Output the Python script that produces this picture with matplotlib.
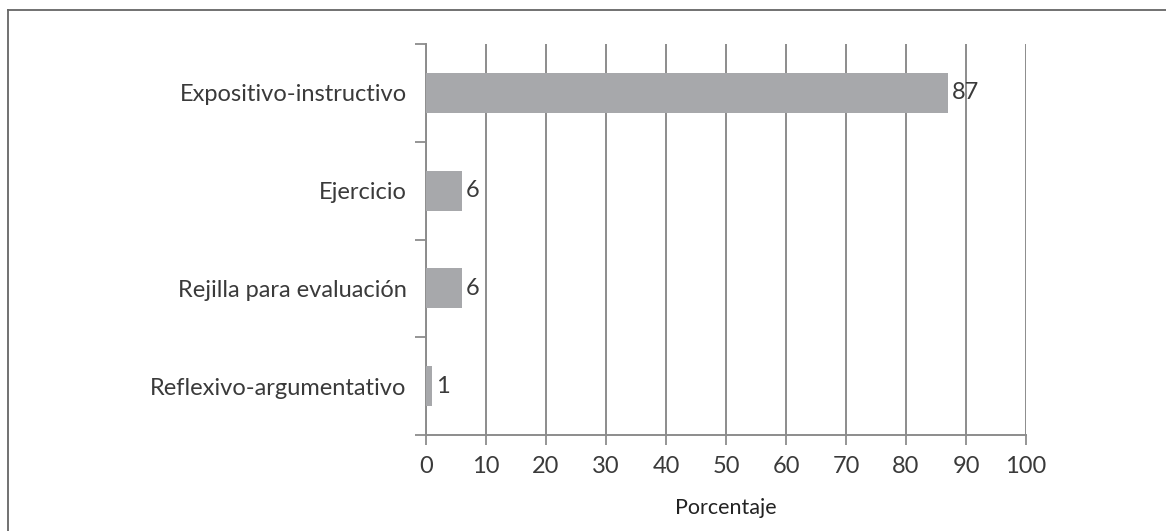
import numpy as np
import matplotlib.pyplot as plt
from matplotlib.lines import Line2D

# datos del grafico
categorias = ['Expositivo-instructivo', 'Ejercicio', 'Rejilla para evaluación', 'Reflexivo-argumentativo']
porcentajes = [87, 6, 6, 1]
marcas_x = list(range(0, 101, 10))

plt.rcParams['font.family'] = ['Lato', 'DejaVu Sans']

gris_barra = '#a7a8ab'
gris_linea = '#8c8c8c'
texto = '#3a3a3a'
tam = 17

fig = plt.figure(figsize=(11.66, 5.31), dpi=100)
ax = fig.add_axes([426 / 1166, 1 - 435 / 531, 600 / 1166, 391 / 531])

y = np.arange(len(categorias))
ax.barh(y, porcentajes, height=0.41, color=gris_barra, zorder=3)

for yi, v in zip(y, porcentajes):
    ax.text(v + 0.7, yi, str(v), va='center', ha='left', fontsize=tam,
            color=texto, zorder=4)

ax.set_xlim(0, 100)
ax.set_ylim(len(categorias) - 0.5, -0.5)
ax.set_xticks(marcas_x)
ax.set_xticklabels([str(m) for m in marcas_x], fontsize=tam, color=texto)

# etiquetas en el centro, marcas en los limites de cada categoria
ax.set_yticks(y)
ax.set_yticklabels(categorias, fontsize=tam, color=texto)
ax.set_yticks(np.arange(-0.5, len(categorias)), minor=True)
ax.tick_params(axis='y', which='major', length=0, pad=14)
ax.tick_params(axis='y', which='minor', length=8, width=1.3, color=gris_linea, direction='out')
ax.tick_params(axis='x', length=7, width=1.3, color=gris_linea, direction='out', pad=8)

ax.grid(axis='x', color=gris_linea, linewidth=1.4, zorder=1)
for lado in ['top', 'right']:
    ax.spines[lado].set_visible(False)
ax.spines['left'].set_color(gris_linea)
ax.spines['left'].set_linewidth(1.4)
ax.spines['bottom'].set_color(gris_linea)
ax.spines['bottom'].set_linewidth(1.4)
ax.spines['left'].set_zorder(2)

ax.set_xlabel('Porcentaje', fontsize=15.5, color='#222222', labelpad=15)

# marco superior e izquierdo
fig.add_artist(Line2D([8 / 1166, 1], [1 - 10 / 531, 1 - 10 / 531], transform=fig.transFigure,
                      color='#666666', linewidth=1.3))
fig.add_artist(Line2D([8 / 1166, 8 / 1166], [0, 1 - 10 / 531], transform=fig.transFigure,
                      color='#666666', linewidth=1.3))

fig.savefig('out.png', dpi=100, facecolor='white')
